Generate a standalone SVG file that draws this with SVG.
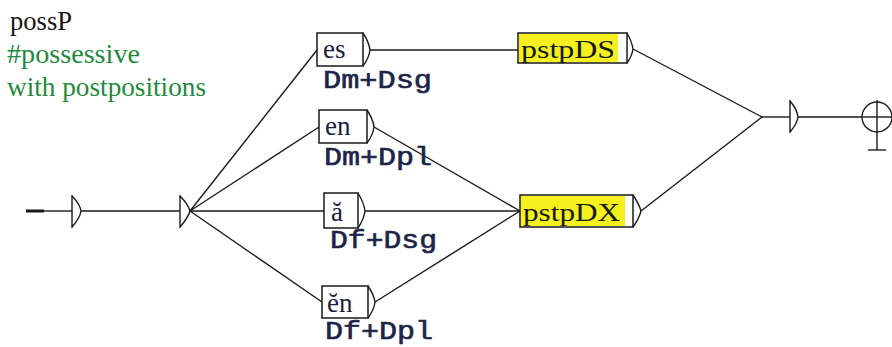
<svg xmlns="http://www.w3.org/2000/svg" width="892" height="347" viewBox="0 0 892 347">
  <style>
    .bg { fill: #ffffff; }
    .wire { stroke: #1a1a1a; stroke-width: 1.4; fill: none; }
    .box { fill: #ffffff; stroke: #1a1a1a; stroke-width: 1.5; }
    .sub { fill: #f6f01c; }
    .tip { stroke: #1a1a1a; stroke-width: 1.4; fill: none; }
    .thick { stroke: #1a1a1a; stroke-width: 3; fill: none; }
    .title { font-family: "Liberation Serif", "Times New Roman", serif; font-size: 28px; fill: #141414; }
    .comment { font-family: "Liberation Serif", "Times New Roman", serif; font-size: 28px; fill: #1e8a3c; }
    .word { font-family: "Liberation Serif", "Times New Roman", serif; font-size: 27px; fill: #18203e; }
    .graph { font-family: "Liberation Serif", "Times New Roman", serif; font-size: 26px; fill: #141c12; }
    .out { font-family: "Courier New", "Liberation Mono", monospace; font-size: 25px; fill: #1c2448; stroke: #1c2448; stroke-width: 0.6; }
  </style>

  <rect class="bg" x="0" y="0" width="892" height="347"/>

  <!-- header texts -->
  <g id="header">
    <text class="title" x="10" y="30" textLength="62" lengthAdjust="spacingAndGlyphs">possP</text>
    <text class="comment" x="7" y="63" textLength="133" lengthAdjust="spacingAndGlyphs">#possessive</text>
    <text class="comment" x="7" y="96" textLength="199" lengthAdjust="spacingAndGlyphs">with postpositions</text>
  </g>

  <!-- connectors -->
  <g id="connectors">
    <line class="thick" x1="26" y1="211" x2="44" y2="211"/>
    <line class="wire" x1="44" y1="211" x2="72" y2="211"/>
    <line class="wire" x1="81" y1="211" x2="180" y2="211"/>
    <line class="wire" x1="190" y1="211" x2="317" y2="50"/>
    <line class="wire" x1="190" y1="211" x2="319" y2="127"/>
    <line class="wire" x1="190" y1="211" x2="324" y2="211"/>
    <line class="wire" x1="190" y1="211" x2="322" y2="302"/>
    <line class="wire" x1="370" y1="50" x2="518" y2="50"/>
    <line class="wire" x1="374" y1="127" x2="520" y2="211"/>
    <line class="wire" x1="365" y1="211" x2="520" y2="211"/>
    <line class="wire" x1="375" y1="302" x2="520" y2="211"/>
    <line class="wire" x1="633" y1="49" x2="762" y2="117"/>
    <line class="wire" x1="641" y1="211" x2="762" y2="117"/>
    <line class="wire" x1="762" y1="117" x2="790" y2="117"/>
    <line class="wire" x1="798" y1="117" x2="862" y2="117"/>
  </g>

  <!-- initial state -->
  <g id="start">
    <path class="tip" d="M72,195 L72,228 M72,196 Q80,204 81,211 Q80,218 72,227"/>
  </g>

  <!-- fan-out point -->
  <g id="split">
    <path class="tip" d="M180,195 L180,228 M180,196 Q188,204 190,211 Q188,218 180,227"/>
  </g>

  <!-- es -->
  <g id="node-es">
    <rect class="box" x="317" y="33" width="46" height="33"/>
    <path class="tip" d="M363,33 Q369,42 370,50 Q369,58 363,66"/>
    <text class="word" x="323" y="58">es</text>
    <text class="out" x="323" y="88" textLength="109" lengthAdjust="spacingAndGlyphs">Dm+Dsg</text>
  </g>

  <!-- en -->
  <g id="node-en">
    <rect class="box" x="319" y="110" width="48" height="33"/>
    <path class="tip" d="M367,110 Q373,119 374,127 Q373,135 367,143"/>
    <text class="word" x="325" y="135">en</text>
    <text class="out" x="324" y="165" textLength="108" lengthAdjust="spacingAndGlyphs">Dm+Dpl</text>
  </g>

  <!-- ă -->
  <g id="node-a">
    <rect class="box" x="324" y="193" width="34" height="35"/>
    <path class="tip" d="M358,193 Q364,203 365,211 Q364,219 358,228"/>
    <text class="word" x="331" y="221">ă</text>
    <text class="out" x="330" y="248" textLength="107" lengthAdjust="spacingAndGlyphs">Df+Dsg</text>
  </g>

  <!-- ĕn -->
  <g id="node-en-breve">
    <rect class="box" x="322" y="286" width="46" height="32"/>
    <path class="tip" d="M368,286 Q374,295 375,302 Q374,310 368,318"/>
    <text class="word" x="327" y="312">ĕn</text>
    <text class="out" x="325" y="339" textLength="108" lengthAdjust="spacingAndGlyphs">Df+Dpl</text>
  </g>

  <!-- pstpDS subgraph -->
  <g id="node-pstpDS">
    <rect class="box" x="518" y="33" width="109" height="30"/>
    <rect class="sub" x="519" y="34" width="99" height="28"/>
    <path class="tip" d="M627,33 Q632,42 633,49 Q632,56 627,63"/>
    <text class="graph" x="521" y="58" textLength="94" lengthAdjust="spacingAndGlyphs">pstpDS</text>
  </g>

  <!-- pstpDX subgraph -->
  <g id="node-pstpDX">
    <rect class="box" x="520" y="195" width="113" height="32"/>
    <rect class="sub" x="521" y="196" width="104" height="30"/>
    <path class="tip" d="M633,195 Q639,204 641,211 Q639,219 633,227"/>
    <text class="graph" x="523" y="221" textLength="97" lengthAdjust="spacingAndGlyphs">pstpDX</text>
  </g>

  <!-- merge point -->
  <g id="merge">
    <path class="tip" d="M790,100 L790,133 M790,101 Q797,109 798,117 Q797,124 790,132"/>
  </g>

  <!-- final state -->
  <g id="final">
    <circle class="tip" cx="877" cy="117" r="15"/>
    <line class="wire" x1="862" y1="117" x2="892" y2="117"/>
    <line class="wire" x1="877" y1="100" x2="877" y2="150"/>
    <line class="wire" x1="868" y1="150" x2="886" y2="150"/>
  </g>
</svg>
